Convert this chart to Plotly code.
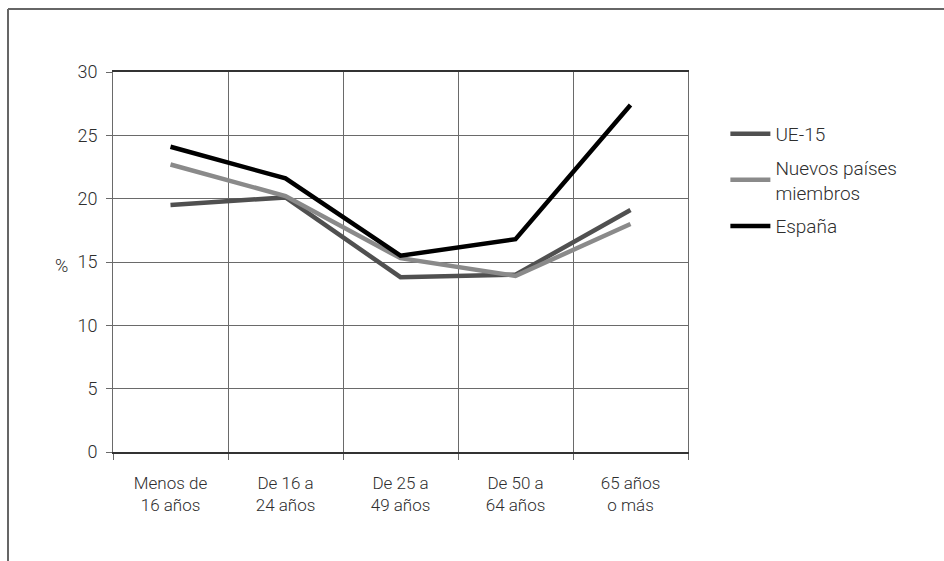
import plotly.graph_objects as go

# Age groups (two-line labels) and the share of each group, in %
categories = ["Menos de<br>16 años", "De 16 a<br>24 años", "De 25 a<br>49 años",
              "De 50 a<br>64 años", "65 años<br>o más"]
ue15 = [19.5, 20.1, 13.8, 14.0, 19.1]
nuevos = [22.7, 20.2, 15.3, 13.9, 18.0]
espana = [24.1, 21.6, 15.5, 16.8, 27.4]

series_names = ["UE-15", "Nuevos países<br>miembros", "España"]
series_values = [ue15, nuevos, espana]
series_colors = ["#505050", "#8a8a8a", "#000000"]

y_ticks = [0, 5, 10, 15, 20, 25, 30]

FONT = "Roboto, Liberation Sans, sans-serif"
TEXT = "#2e2e2e"
GRID = "#6a6a6a"

x_pos = list(range(len(categories)))
boundaries = [i - 0.5 for i in range(len(categories) + 1)]

fig = go.Figure()
for i, (name, vals, col) in enumerate(zip(series_names, series_values, series_colors)):
    fig.add_trace(go.Scatter(
        x=x_pos, y=vals, name=name, mode="lines",
        legendgroup=f"g{i}",
        line=dict(color=col, width=4.5),
    ))

fig.update_layout(
    width=944, height=561,
    margin=dict(l=113, r=256, t=72, b=109),
    paper_bgcolor="white", plot_bgcolor="white",
    font=dict(family=FONT, size=17, color=TEXT, weight=300),
    showlegend=True,
    legend=dict(
        x=1.065, y=0.887, xanchor="left", yanchor="top",
        font=dict(family=FONT, size=19, color=TEXT, weight=300),
        tracegroupgap=6, itemwidth=40,
        bgcolor="rgba(0,0,0,0)",
    ),
    xaxis=dict(
        range=[-0.5, 4.5],
        tickvals=x_pos, ticktext=categories,
        ticks="", showgrid=False, zeroline=False,
        showline=True, linecolor="#333", linewidth=1.5, mirror=True,
        ticklabelstandoff=15,
        tickfont=dict(family=FONT, size=17, color=TEXT, weight=300),
        minor=dict(tickvals=boundaries, ticks="outside", ticklen=6,
                   tickcolor=GRID, showgrid=True, gridcolor=GRID, gridwidth=1),
    ),
    yaxis=dict(
        range=[0, 30], tickvals=y_ticks,
        ticks="outside", ticklen=6, tickcolor=GRID,
        showgrid=True, gridcolor=GRID, gridwidth=1, zeroline=False,
        showline=True, linecolor=GRID, linewidth=1, mirror=True,
        ticklabelstandoff=5,
        tickfont=dict(family=FONT, size=18, color=TEXT, weight=300),
    ),
    annotations=[dict(
        text="%", xref="paper", yref="paper", x=-0.09, y=0.49,
        xanchor="center", yanchor="middle", showarrow=False,
        font=dict(family=FONT, size=18, color=TEXT, weight=300),
    )],
    shapes=[
        # Frame around the figure (left and top edges)
        dict(type="line", xref="paper", yref="paper",
             x0=-0.1826, x1=-0.1826, y0=1.166, y1=-0.29,
             line=dict(color="#666", width=2)),
        dict(type="line", xref="paper", yref="paper",
             x0=-0.1826, x1=1.45, y0=1.166, y1=1.166,
             line=dict(color="#666", width=2)),
    ],
)

fig.write_html("out.html")
